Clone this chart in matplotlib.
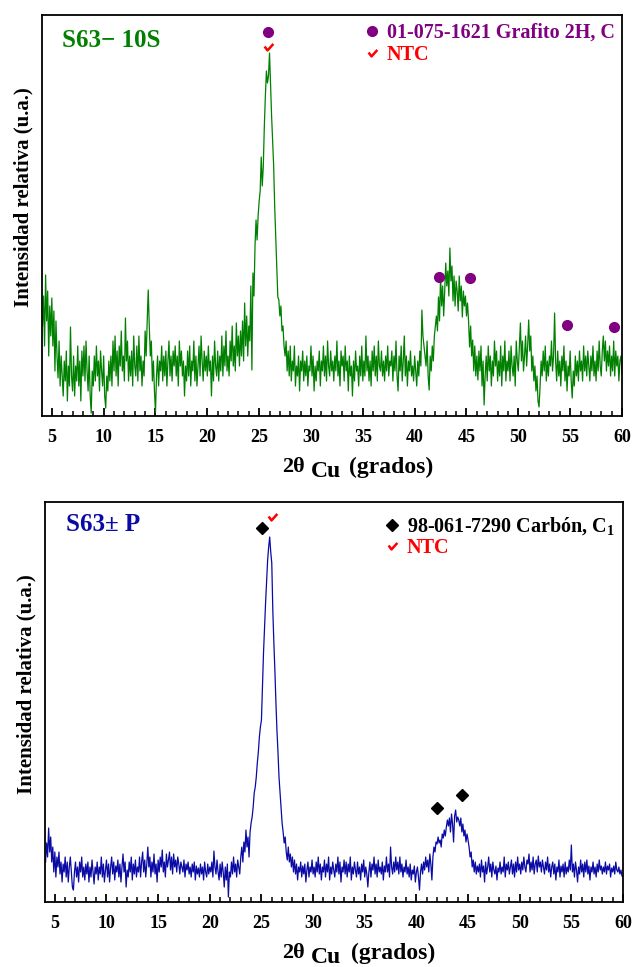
import numpy as np
import matplotlib
matplotlib.use("Agg")
import matplotlib.pyplot as plt
from matplotlib.path import Path
from matplotlib.lines import Line2D

plt.rcParams['font.family'] = ['Liberation Serif', 'DejaVu Serif']
plt.rcParams['font.weight'] = 'bold'
plt.rcParams['mathtext.fontset'] = 'custom'
plt.rcParams['mathtext.rm'] = 'Liberation Serif:bold'
plt.rcParams['mathtext.bf'] = 'Liberation Serif:bold'

# 2-theta grid, 0.1 deg step (4.1 .. 60.0)
two_theta = np.round(np.arange(41, 601) * 0.1, 1)

# S63-10S relative intensity, one row per degree (k+0.1 .. k+1.0)
s63_10s = [
    90, 120, 70, 141, 95, 125, 60, 110, 80, 118,     # 4
    70, 105, 45, 95, 60, 38, 75, 30, 60, 40,         # 5
    20, 55, 35, 65, 15, 50, 30, 89, 40, 25,          # 6
    60, 20, 50, 35, 70, 30, 55, 15, 65, 40,          # 7
    70, 35, 75, 45, 25, 60, 20, 3, 45, 30,           # 8
    60, 35, 70, 40, 55, 25, 65, 45, 30, 60,          # 9
    20, 8, 40, 25, 55, 35, 60, 30, 75, 45,           # 10
    80, 40, 65, 30, 70, 50, 85, 45, 60, 35,          # 11
    98, 55, 75, 35, 60, 40, 65, 30, 80, 50,          # 12
    40, 70, 35, 80, 45, 60, 30, 55, 40, 85,          # 13
    60, 95, 126, 90, 60, 75, 35, 55, 25, 4,          # 14
    40, 60, 30, 55, 45, 70, 35, 60, 40, 65,          # 15
    30, 55, 75, 40, 60, 35, 65, 50, 70, 40,          # 16
    60, 30, 75, 50, 65, 40, 55, 20, 50, 35,          # 17
    65, 40, 70, 30, 55, 45, 75, 35, 60, 30,          # 18
    50, 70, 40, 80, 55, 35, 65, 45, 60, 40,          # 19
    70, 45, 55, 20, 60, 35, 75, 50, 40, 65,          # 20
    35, 60, 45, 80, 40, 70, 50, 85, 45, 60,          # 21
    40, 75, 55, 90, 50, 70, 45, 93, 60, 80,          # 22
    50, 85, 60, 95, 55, 113, 70, 100, 60, 90,        # 23
    75, 130, 46, 143, 120, 170, 196, 176, 200, 215,  # 24
    225, 259, 230, 250, 290, 320, 345, 333, 340, 363,  # 25
    330, 300, 275, 250, 209, 180, 150, 119, 116, 100,  # 26
    110, 85, 90, 70, 60, 75, 45, 65, 40, 70,         # 27
    35, 55, 45, 70, 30, 50, 40, 60, 25, 55,          # 28
    45, 65, 35, 55, 40, 60, 30, 50, 45, 70,          # 29
    40, 60, 25, 50, 35, 55, 45, 65, 30, 55,          # 30
    45, 70, 40, 60, 35, 75, 50, 40, 65, 45,          # 31
    55, 35, 60, 45, 75, 40, 55, 30, 65, 50,          # 32
    60, 35, 70, 45, 55, 25, 60, 40, 50, 20,          # 33
    55, 35, 65, 45, 50, 30, 60, 40, 70, 35,          # 34
    55, 40, 80, 45, 60, 35, 55, 30, 65, 45,          # 35
    70, 40, 60, 35, 75, 50, 45, 65, 40, 55,          # 36
    35, 60, 45, 70, 40, 55, 50, 65, 35, 60,          # 37
    45, 75, 40, 25, 60, 45, 70, 35, 55, 80,          # 38
    40, 60, 30, 55, 45, 65, 40, 50, 35, 60,          # 39
    45, 30, 55, 40, 65, 50, 106, 80, 70, 60,         # 40
    50, 75, 40, 26, 60, 45, 70, 55, 80, 90,          # 41
    100, 85, 119, 95, 140, 110, 130, 100, 125, 153,  # 42
    130, 145, 120, 168, 135, 150, 115, 140, 110, 135,  # 43
    125, 105, 140, 115, 130, 99, 125, 110, 120, 100,   # 44
    113, 95, 69, 90, 60, 76, 45, 70, 40, 60,         # 45
    36, 65, 45, 70, 30, 55, 11, 40, 60, 35,          # 46
    70, 45, 60, 30, 55, 40, 75, 50, 65, 35,          # 47
    55, 40, 70, 30, 60, 45, 75, 35, 55, 45,          # 48
    65, 35, 70, 50, 40, 60, 30, 75, 55, 45,          # 49
    70, 93, 55, 75, 45, 60, 80, 50, 70, 96,          # 50
    65, 80, 45, 60, 35, 50, 25, 40, 15, 9,           # 51
    30, 55, 40, 65, 45, 70, 35, 55, 40, 60,          # 52
    50, 75, 45, 60, 103, 55, 35, 65, 40, 55,         # 53
    30, 60, 45, 70, 35, 55, 25, 50, 40, 65,          # 54
    35, 18, 45, 30, 60, 40, 55, 35, 65, 45,          # 55
    55, 35, 70, 45, 60, 40, 65, 50, 35, 60,          # 56
    45, 70, 40, 55, 35, 65, 45, 75, 50, 40,          # 57
    65, 80, 55, 75, 45, 65, 50, 70, 40, 60,          # 58
    45, 75, 40, 65, 50, 60, 35, 55, 60, 43,          # 59
]

# S63+-P relative intensity
s63_p = [
    40, 59, 45, 74, 50, 65, 40, 55, 30, 50,          # 4
    25, 45, 35, 50, 28, 40, 20, 38, 30, 45,          # 5
    25, 40, 20, 35, 45, 30, 15, 12, 30, 40,          # 6
    25, 35, 20, 40, 30, 45, 25, 35, 22, 38,          # 7
    28, 40, 20, 35, 25, 42, 30, 18, 35, 28,          # 8
    40, 22, 35, 28, 45, 25, 38, 20, 32, 42,          # 9
    25, 38, 20, 35, 45, 28, 40, 22, 36, 30,          # 10
    42, 25, 38, 20, 35, 48, 30, 40, 15, 32,          # 11
    25, 40, 30, 45, 22, 38, 28, 42, 25, 35,          # 12
    30, 45, 25, 40, 50, 30, 42, 25, 38, 55,          # 13
    35, 45, 25, 40, 30, 48, 28, 38, 20, 42,          # 14
    30, 45, 35, 52, 30, 40, 25, 48, 35, 42,          # 15
    50, 32, 45, 28, 48, 35, 42, 30, 45, 38,          # 16
    28, 40, 35, 30, 42, 25, 38, 32, 40, 28,          # 17
    35, 25, 38, 30, 40, 22, 36, 28, 34, 25,          # 18
    38, 28, 35, 22, 40, 30, 25, 38, 28, 35,          # 19
    30, 40, 25, 51, 35, 28, 42, 30, 22, 38,          # 20
    25, 40, 30, 15, 35, 22, 38, 5, 30, 25,           # 21
    40, 28, 45, 30, 38, 25, 42, 35, 28, 45,          # 22
    55, 40, 60, 50, 72, 55, 65, 45, 70, 79,          # 23
    85, 95, 109, 115, 125, 139, 150, 165, 175, 182,  # 24
    215, 249, 275, 299, 320, 342, 355, 365, 350, 339,  # 25
    292, 260, 232, 200, 172, 150, 125, 110, 95, 79,  # 26
    70, 59, 65, 50, 42, 55, 40, 48, 35, 45,          # 27
    30, 42, 28, 38, 22, 35, 30, 40, 25, 36,          # 28
    28, 38, 20, 32, 40, 25, 35, 30, 42, 28,          # 29
    35, 25, 40, 30, 45, 28, 38, 22, 35, 30,          # 30
    42, 25, 38, 30, 45, 22, 35, 28, 40, 32,          # 31
    25, 38, 30, 45, 28, 40, 20, 35, 30, 42,          # 32
    28, 40, 25, 38, 30, 45, 22, 35, 28, 40,          # 33
    32, 25, 40, 28, 35, 22, 38, 30, 42, 25,          # 34
    35, 28, 15, 30, 40, 25, 38, 32, 45, 28,          # 35
    38, 25, 42, 30, 35, 28, 40, 22, 36, 30,          # 36
    45, 30, 38, 25, 55, 35, 28, 40, 30, 45,          # 37
    32, 40, 28, 45, 30, 38, 25, 35, 30, 42,          # 38
    28, 35, 25, 38, 22, 32, 28, 36, 20, 30,          # 39
    35, 25, 12, 30, 38, 28, 40, 32, 45, 35,          # 40
    42, 30, 48, 38, 22, 45, 55, 50, 60, 58,          # 41
    65, 59, 62, 55, 68, 64, 72, 66, 75, 82,          # 42
    76, 84, 70, 88, 78, 60, 86, 92, 80, 85,          # 43
    82, 76, 84, 70, 78, 66, 72, 60, 68, 62,          # 44
    55, 45, 50, 35, 42, 30, 40, 28, 36, 30,          # 45
    38, 25, 42, 30, 36, 20, 40, 28, 35, 45,          # 46
    30, 38, 25, 40, 32, 28, 36, 22, 34, 30,          # 47
    40, 28, 35, 30, 45, 25, 38, 32, 40, 28,          # 48
    35, 42, 28, 38, 25, 40, 30, 45, 32, 38,          # 49
    28, 40, 32, 45, 35, 30, 42, 38, 48, 30,          # 50
    40, 32, 45, 28, 38, 42, 30, 46, 35, 40,          # 51
    30, 42, 35, 28, 40, 32, 45, 30, 38, 25,          # 52
    35, 40, 28, 38, 22, 35, 30, 42, 25, 36,          # 53
    30, 38, 25, 40, 28, 35, 30, 42, 32, 57,          # 54
    30, 38, 25, 40, 32, 20, 35, 28, 42, 30,          # 55
    38, 25, 40, 30, 42, 28, 36, 22, 35, 30,          # 56
    40, 28, 35, 25, 38, 30, 42, 32, 36, 28,          # 57
    35, 30, 40, 28, 36, 32, 38, 25, 34, 30,          # 58
    36, 28, 40, 32, 30, 35, 28, 32, 26, 25,          # 59
]

# phase markers (position, height)
grafito_x = [25.85, 42.35, 45.3, 54.7, 59.25]
grafito_y = [384, 139, 138, 91, 89]
ntc_top_x = [25.85]
ntc_top_y = [369]

carbon_x = [25.1, 41.95, 44.4]
carbon_y = [374, 94, 107]
ntc_bot_x = [26.0]
ntc_bot_y = [385]

tick_major = np.arange(5, 61, 5)
tick_minor = np.arange(5, 61, 1)

check = Path([(-0.6, 0.15), (-0.15, -0.45), (0.75, 0.55)],
             [Path.MOVETO, Path.LINETO, Path.LINETO])

GREEN = '#008000'
BLUE = '#0a0aa5'
PURPLE = '#800080'
RED = '#ff0000'


def style_axes(ax, ymax, xl_pos):
    ax.set_xlim(4.05, 60)
    ax.set_ylim(0, ymax)
    ax.set_yticks([])
    ax.set_xticks(tick_major)
    ax.set_xticks(tick_minor, minor=True)
    ax.tick_params(axis='x', which='major', direction='in', length=6, width=1.3,
                   pad=9, labelsize=13)
    ax.tick_params(axis='x', which='minor', direction='in', length=3.5, width=1.1)
    for lab in ax.get_xticklabels():
        lab.set_fontweight('bold')
    for sp in ax.spines.values():
        sp.set_linewidth(1.3)
    # x label built from pieces: "2θ", lowered "Cu", "(grados)"
    ax.annotate('2θ', xy=(xl_pos[0], 0), xycoords='axes fraction',
                xytext=(0, -37), textcoords='offset points',
                ha='center', va='center', fontsize=16, fontweight='bold')
    ax.annotate('Cu', xy=(xl_pos[1], 0), xycoords='axes fraction',
                xytext=(0, -40), textcoords='offset points',
                ha='center', va='center', fontsize=17, fontweight='bold')
    ax.annotate('(grados)', xy=(xl_pos[2], 0), xycoords='axes fraction',
                xytext=(0, -37), textcoords='offset points',
                ha='center', va='center', fontsize=17, fontweight='bold')
    ax.set_ylabel('Intensidad relativa (u.a.)', fontsize=15, fontweight='bold')
    ax.yaxis.set_label_coords(-0.014, 0.545)


fig = plt.figure(figsize=(6.35, 9.67), dpi=100)

# ---- top panel ----
ax1 = fig.add_axes([0.0661, 0.5698, 0.9134, 0.4147])
ax1.plot(two_theta, s63_10s, color=GREEN, lw=0.9)
ax1.plot(grafito_x, grafito_y, 'o', color=PURPLE, ms=7, ls='none')
ax1.plot(ntc_top_x, ntc_top_y, marker=check, ms=7, mfc='none', mec=RED, mew=1.8,
         ls='none')
style_axes(ax1, 401, (0.433, 0.490, 0.602))
ax1.text(0.034, 0.936, 'S63− 10S', transform=ax1.transAxes, color=GREEN,
         fontsize=18, fontweight='bold', va='center', ha='left')
h1 = [Line2D([], [], marker='o', color=PURPLE, ms=7, ls='none'),
      Line2D([], [], marker=check, ms=7, mfc='none', mec=RED, mew=1.8, ls='none')]
leg1 = ax1.legend(h1, ['01-075-1621 Grafito 2H, C', 'NTC'], loc='upper left',
                  bbox_to_anchor=(0.548, 0.99), frameon=False, fontsize=14.5,
                  handlelength=0.8, handletextpad=0.35, labelspacing=0.1,
                  borderpad=0.2, borderaxespad=0)
for t, c in zip(leg1.get_texts(), [PURPLE, RED]):
    t.set_color(c)
    t.set_fontweight('bold')

# ---- bottom panel ----
ax2 = fig.add_axes([0.0709, 0.0672, 0.9102, 0.4137])
ax2.plot(two_theta, s63_p, color=BLUE, lw=0.9)
ax2.plot(carbon_x, carbon_y, 'D', color='black', ms=6, ls='none')
ax2.plot(ntc_bot_x, ntc_bot_y, marker=check, ms=7, mfc='none', mec=RED, mew=1.8,
         ls='none')
style_axes(ax2, 400, (0.430, 0.486, 0.602))
ax2.text(0.036, 0.9425, 'S63± P', transform=ax2.transAxes, color=BLUE,
         fontsize=18, fontweight='bold', va='center', ha='left')
h2 = [Line2D([], [], marker='D', color='black', ms=6, ls='none'),
      Line2D([], [], marker=check, ms=7, mfc='none', mec=RED, mew=1.8, ls='none')]
leg2 = ax2.legend(h2, ['98-061-7290 Carbón, C$_{1}$', 'NTC'], loc='upper left',
                  bbox_to_anchor=(0.579, 0.977), frameon=False, fontsize=14.5,
                  handlelength=0.8, handletextpad=0.35, labelspacing=0.05,
                  borderpad=0.2, borderaxespad=0)
for t, c in zip(leg2.get_texts(), ['black', RED]):
    t.set_color(c)
    t.set_fontweight('bold')

fig.savefig('out.png', dpi=100)
